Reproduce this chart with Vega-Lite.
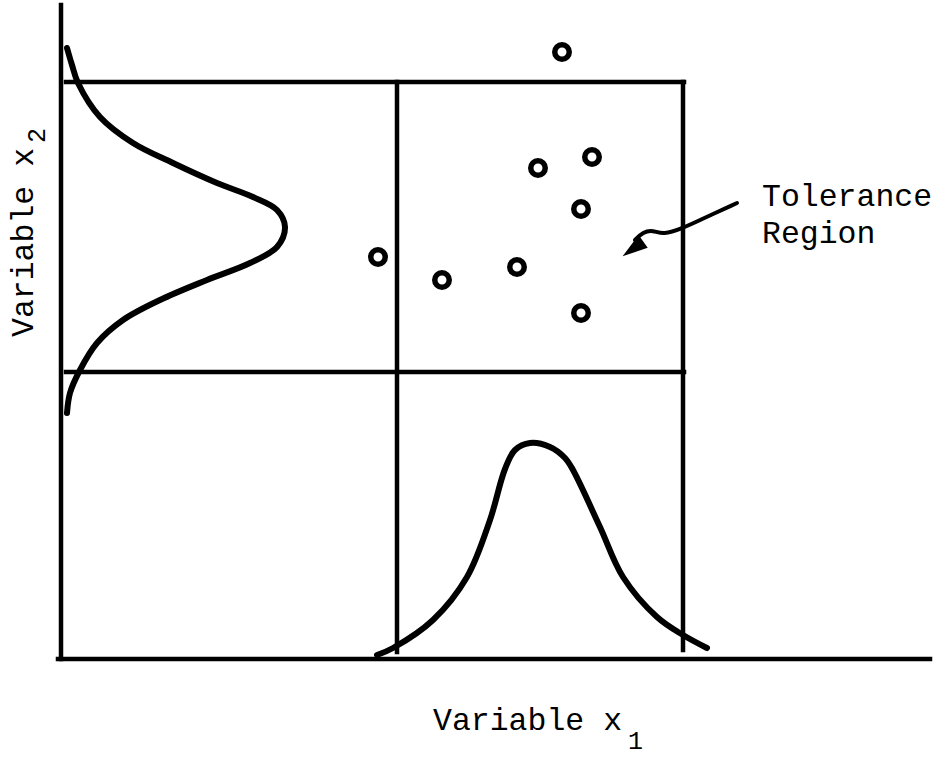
{
  "$schema": "https://vega.github.io/schema/vega-lite/v6.json",
  "width": 942,
  "height": 759,
  "autosize": {"type": "none"},
  "padding": 0,
  "background": "white",
  "config": {"view": {"stroke": null}},
  "datasets": {
    "frame": [
      {"part": "x-axis", "x": -0.3, "x2": 86.9, "y": 0, "y2": 0},
      {"part": "y-axis", "x": 0, "x2": 0, "y": 0, "y2": 65.4},
      {"part": "upper limit x2", "x": 0.5, "x2": 62.3, "y": 57.7, "y2": 57.7},
      {"part": "lower limit x2", "x": 0.5, "x2": 62.3, "y": 28.7, "y2": 28.7},
      {"part": "lower limit x1", "x": 33.6, "x2": 33.6, "y": 57.7, "y2": 0.7},
      {"part": "upper limit x1", "x": 62.2, "x2": 62.2, "y": 57.7, "y2": 0.9}
    ],
    "points": [
      {"x": 50.1, "y": 60.7},
      {"x": 47.7, "y": 49.1},
      {"x": 53.1, "y": 50.2},
      {"x": 52.0, "y": 45.0},
      {"x": 31.7, "y": 40.2},
      {"x": 38.1, "y": 37.9},
      {"x": 45.6, "y": 39.2},
      {"x": 52.0, "y": 34.6}
    ],
    "curves": [
      {"curve": "x2", "i": 0, "x": 0.6, "y": 61.1},
      {"curve": "x2", "i": 1, "x": 1.1, "y": 59.4},
      {"curve": "x2", "i": 2, "x": 1.7, "y": 57.6},
      {"curve": "x2", "i": 3, "x": 3.9, "y": 54.2},
      {"curve": "x2", "i": 4, "x": 7.2, "y": 51.6},
      {"curve": "x2", "i": 5, "x": 11.2, "y": 49.6},
      {"curve": "x2", "i": 6, "x": 15.6, "y": 47.6},
      {"curve": "x2", "i": 7, "x": 19.2, "y": 46.2},
      {"curve": "x2", "i": 8, "x": 21.6, "y": 44.9},
      {"curve": "x2", "i": 9, "x": 22.4, "y": 43.2},
      {"curve": "x2", "i": 10, "x": 21.6, "y": 41.2},
      {"curve": "x2", "i": 11, "x": 18.9, "y": 39.6},
      {"curve": "x2", "i": 12, "x": 14.6, "y": 37.9},
      {"curve": "x2", "i": 13, "x": 9.9, "y": 35.9},
      {"curve": "x2", "i": 14, "x": 6.2, "y": 33.9},
      {"curve": "x2", "i": 15, "x": 3.6, "y": 31.6},
      {"curve": "x2", "i": 16, "x": 1.9, "y": 28.9},
      {"curve": "x2", "i": 17, "x": 0.9, "y": 26.6},
      {"curve": "x2", "i": 18, "x": 0.6, "y": 24.6},
      {"curve": "x1", "i": 0, "x": 31.6, "y": 0.4},
      {"curve": "x1", "i": 1, "x": 33.2, "y": 1.1},
      {"curve": "x1", "i": 2, "x": 37.2, "y": 3.9},
      {"curve": "x1", "i": 3, "x": 40.6, "y": 8.2},
      {"curve": "x1", "i": 4, "x": 42.9, "y": 13.9},
      {"curve": "x1", "i": 5, "x": 44.4, "y": 19.0},
      {"curve": "x1", "i": 6, "x": 45.4, "y": 20.9},
      {"curve": "x1", "i": 7, "x": 46.9, "y": 21.6},
      {"curve": "x1", "i": 8, "x": 48.9, "y": 21.2},
      {"curve": "x1", "i": 9, "x": 50.4, "y": 20.1},
      {"curve": "x1", "i": 10, "x": 51.2, "y": 18.9},
      {"curve": "x1", "i": 11, "x": 53.9, "y": 13.2},
      {"curve": "x1", "i": 12, "x": 56.2, "y": 8.2},
      {"curve": "x1", "i": 13, "x": 59.6, "y": 4.2},
      {"curve": "x1", "i": 14, "x": 62.2, "y": 2.4},
      {"curve": "x1", "i": 15, "x": 64.6, "y": 1.1}
    ],
    "arrow": [
      {"i": 0, "x": 67.6, "y": 45.6},
      {"i": 1, "x": 63.9, "y": 43.9},
      {"i": 2, "x": 62.2, "y": 43.1},
      {"i": 3, "x": 60.2, "y": 42.4},
      {"i": 4, "x": 59.2, "y": 42.9},
      {"i": 5, "x": 58.2, "y": 42.7},
      {"i": 6, "x": 57.4, "y": 41.9}
    ],
    "arrowhead": [{"x": 57.3, "y": 41.1}],
    "labels": [
      {"text": "Tolerance", "x": 70.1, "y": 45.3},
      {"text": "Region", "x": 70.1, "y": 41.6},
      {"text": "Variable x", "x": 37.2, "y": -7.1}
    ],
    "subs": [{"text": "1", "x": 56.7, "y": -9.0}],
    "vlabel": [{"text": "Variable x", "x": -2.8, "y": 32.2}],
    "vsub": [{"text": "2", "x": -1.6, "y": 51.6}]
  },
  "encoding": {
    "x": {"field": "x", "type": "quantitative", "scale": {"domain": [-6.1, 88.1], "nice": false, "zero": false}, "axis": null},
    "y": {"field": "y", "type": "quantitative", "scale": {"domain": [-10, 65.9], "nice": false, "zero": false}, "axis": null}
  },
  "layer": [
    {
      "data": {"name": "frame"},
      "mark": {"type": "rule", "color": "black", "strokeWidth": 4.5, "strokeCap": "square"},
      "encoding": {"x2": {"field": "x2"}, "y2": {"field": "y2"}}
    },
    {
      "data": {"name": "curves"},
      "mark": {"type": "line", "color": "black", "strokeWidth": 6, "strokeCap": "round", "strokeJoin": "round", "interpolate": "catmull-rom"},
      "encoding": {"detail": {"field": "curve"}, "order": {"field": "i", "type": "quantitative"}}
    },
    {
      "data": {"name": "points"},
      "mark": {"type": "point", "shape": "circle", "filled": false, "color": "black", "strokeWidth": 5.5, "size": 210, "opacity": 1}
    },
    {
      "data": {"name": "arrow"},
      "mark": {"type": "line", "color": "black", "strokeWidth": 4, "strokeCap": "round", "strokeJoin": "round", "interpolate": "basis"},
      "encoding": {"order": {"field": "i", "type": "quantitative"}}
    },
    {
      "data": {"name": "arrowhead"},
      "mark": {"type": "point", "shape": "M0,-1L0.55,0.8L-0.55,0.8Z", "filled": true, "color": "black", "size": 800, "angle": 234, "opacity": 1}
    },
    {
      "data": {"name": "labels"},
      "mark": {"type": "text", "font": "Liberation Mono", "fontSize": 31.5, "align": "left", "baseline": "alphabetic", "color": "black"},
      "encoding": {"text": {"field": "text"}}
    },
    {
      "data": {"name": "subs"},
      "mark": {"type": "text", "font": "Liberation Mono", "fontSize": 25, "align": "left", "baseline": "alphabetic", "color": "black"},
      "encoding": {"text": {"field": "text"}}
    },
    {
      "data": {"name": "vlabel"},
      "mark": {"type": "text", "font": "Liberation Mono", "fontSize": 31.5, "align": "left", "baseline": "alphabetic", "angle": 270, "color": "black"},
      "encoding": {"text": {"field": "text"}}
    },
    {
      "data": {"name": "vsub"},
      "mark": {"type": "text", "font": "Liberation Mono", "fontSize": 25, "align": "left", "baseline": "alphabetic", "angle": 270, "color": "black"},
      "encoding": {"text": {"field": "text"}}
    }
  ]
}
